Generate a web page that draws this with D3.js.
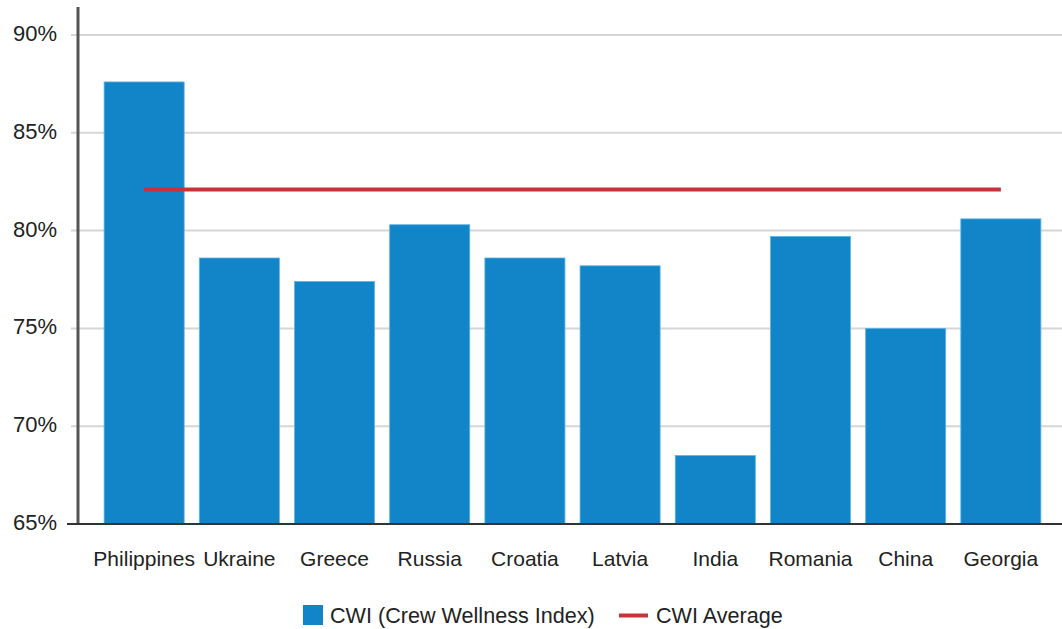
<!DOCTYPE html>
<html>
<head>
<meta charset="utf-8">
<script src="https://cdn.jsdelivr.net/npm/d3@7"></script>
<style>
  html, body { margin: 0; padding: 0; background: #fff; }
  svg { display: block; font-family: "Liberation Sans", Arial, sans-serif; }
</style>
</head>
<body>
<svg id="chart" width="1062" height="629"></svg>
<script>
const categories = ["Philippines", "Ukraine", "Greece", "Russia", "Croatia", "Latvia", "India", "Romania", "China", "Georgia"];
const cwiValues = [87.6, 78.6, 77.4, 80.3, 78.6, 78.2, 68.5, 79.7, 75.0, 80.6];
const cwiAverage = [82.1, 82.1, 82.1, 82.1, 82.1, 82.1, 82.1, 82.1, 82.1, 82.1];
const yTicks = [65, 70, 75, 80, 85, 90];
const seriesNames = ["CWI (Crew Wellness Index)", "CWI Average"];

const svg = d3.select("#chart");
const barColor = "#1185c8";
const lineColor = "#c8323a";
const textColor = "#222";

const x = d3.scaleBand().domain(categories).range([96.5, 1048.5]).paddingInner(0.159).paddingOuter(0.08);
const y = d3.scaleLinear().domain([65, 90]).range([524, 35]);

// gridlines
svg.append("g").selectAll("line").data(yTicks.filter(t => t > 65)).join("line")
  .attr("x1", 71).attr("x2", 1062)
  .attr("y1", d => y(d)).attr("y2", d => y(d))
  .attr("stroke", "#d6d6d6").attr("stroke-width", 2);

// y axis
const yAxis = d3.axisLeft(y).tickValues(yTicks).tickFormat(d => d + "%").tickSize(0).tickPadding(21);
const gy = svg.append("g").attr("transform", "translate(78,0)").call(yAxis);
gy.select(".domain").remove();
gy.selectAll("text").attr("font-size", 22).attr("fill", textColor).attr("dy", "0.25em")
  .attr("font-family", "Liberation Sans, Arial, sans-serif");
svg.append("line").attr("x1", 78).attr("x2", 78).attr("y1", 7).attr("y2", 525)
  .attr("stroke", "#555").attr("stroke-width", 3);

// bars
svg.append("g").selectAll("rect").data(categories).join("rect")
  .attr("x", d => x(d)).attr("width", x.bandwidth())
  .attr("y", (d, i) => y(cwiValues[i]))
  .attr("height", (d, i) => y(65) - y(cwiValues[i]))
  .attr("fill", barColor).attr("stroke", "#5fb3e3").attr("stroke-width", 0.8);

// x axis
const xAxis = d3.axisBottom(x).tickSize(0).tickPadding(27);
const gx = svg.append("g").attr("transform", "translate(0,524)").call(xAxis);
gx.select(".domain").remove();
gx.selectAll("text").attr("font-size", 21).attr("fill", textColor)
  .attr("font-family", "Liberation Sans, Arial, sans-serif");
svg.append("line").attr("x1", 67).attr("x2", 1062).attr("y1", 524).attr("y2", 524)
  .attr("stroke", "#333").attr("stroke-width", 2);

// average line
const line = d3.line().x(d => x(d[0]) + x.bandwidth() / 2).y(d => y(d[1]));
svg.append("path").datum(categories.map((c, i) => [c, cwiAverage[i]]))
  .attr("d", line).attr("fill", "none").attr("stroke", lineColor).attr("stroke-width", 4);

// legend
const lg = svg.append("g");
lg.append("rect").attr("x", 303).attr("y", 605).attr("width", 20).attr("height", 20).attr("fill", barColor);
lg.append("text").attr("x", 330).attr("y", 623).text(seriesNames[0])
  .attr("font-size", 21.6).attr("fill", textColor);
lg.append("line").attr("x1", 619).attr("x2", 648).attr("y1", 615.5).attr("y2", 615.5)
  .attr("stroke", lineColor).attr("stroke-width", 4);
lg.append("text").attr("x", 656).attr("y", 623).text(seriesNames[1])
  .attr("font-size", 21.6).attr("fill", textColor);
</script>
</body>
</html>
